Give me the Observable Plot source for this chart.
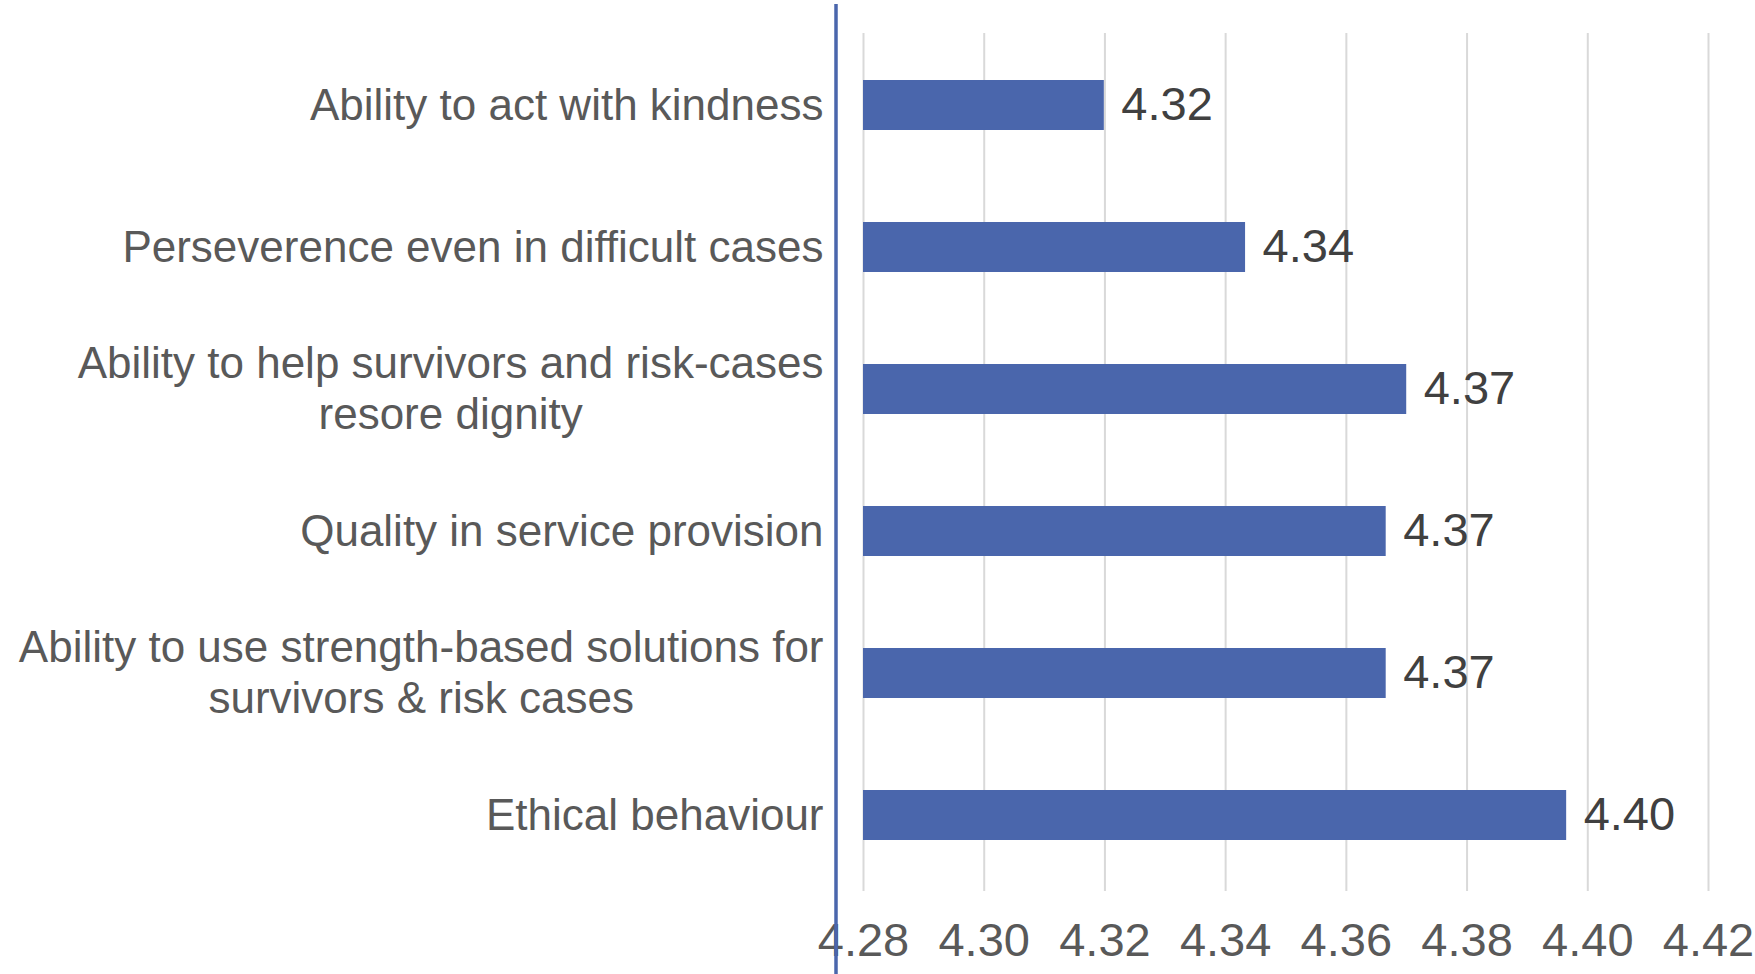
<!DOCTYPE html>
<html><head><meta charset="utf-8">
<script src="https://cdn.jsdelivr.net/npm/d3@7"></script>
<script src="https://cdn.jsdelivr.net/npm/@observablehq/plot@0.6"></script>
<style>body{margin:0;background:#fff}</style>
</head><body><div id="chart"></div>
<script>
const categories = [
  "Ability to act with kindness",
  "Perseverence even in difficult cases",
  "Ability to help survivors and risk-cases\nresore dignity",
  "Quality in service provision",
  "Ability to use strength-based solutions for\nsurvivors & risk cases",
  "Ethical behaviour"
];
const values = [4.3199, 4.3433, 4.3700, 4.3666, 4.3666, 4.3965];
const valueLabels = ["4.32", "4.34", "4.37", "4.37", "4.37", "4.40"];
const xDomain = [4.28, 4.42];
const xTicks = [4.28, 4.30, 4.32, 4.34, 4.36, 4.38, 4.40, 4.42];

const data = categories.map((c, i) => ({category: c, value: values[i], label: valueLabels[i]}));
const font = "'Liberation Sans', Arial, sans-serif";
const blue = "#4a66ac";

const chart = Plot.plot({
  width: 1755, height: 974,
  marginTop: 33, marginBottom: 87, marginLeft: 863, marginRight: 47,
  style: {fontFamily: font, fontSize: "45px", background: "#fff", overflow: "visible"},
  x: {domain: xDomain, label: null},
  y: {domain: categories, paddingInner: 0.649, paddingOuter: 0.3245, label: null},
  marks: [
    Plot.gridX(xTicks, {stroke: "#d9d9d9", strokeOpacity: 1, strokeWidth: 2, insetBottom: -4}),
    Plot.axisX({ticks: xTicks, tickSize: 0, tickPadding: 35, tickFormat: d => d.toFixed(2), fill: "#595959", fontSize: 47, label: null}),
    Plot.axisY({tickSize: 0, tickPadding: 40, fill: "#595959", fontSize: 44, lineHeight: 1.15, textAnchor: "end", dy: -2, label: null}),
    Plot.barX(data, {x1: xDomain[0], x2: "value", y: "category", fill: blue}),
    Plot.text(data, {x: "value", y: "category", text: "label", dx: 17, dy: -1, textAnchor: "start", fill: "#404040", fontSize: 47}),
    Plot.ruleX([xDomain[0]], {dx: -27.5, stroke: blue, strokeWidth: 3.5, insetTop: -29, insetBottom: -87})
  ]
});
document.getElementById("chart").appendChild(chart);

// center multi-line category labels while keeping their block right-aligned
chart.querySelectorAll('g[aria-label="y-axis tick label"] text').forEach(t => {
  const w = t.getBBox().width;
  t.setAttribute("text-anchor", "middle");
  const tr = t.getAttribute("transform") || "";
  t.setAttribute("transform", tr + ` translate(${-w / 2},0)`);
});
</script>
</body></html>
